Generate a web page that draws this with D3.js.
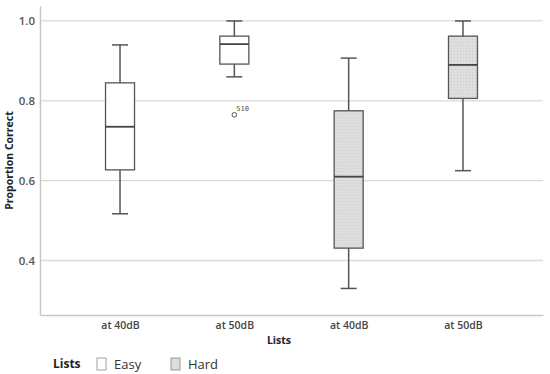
<!DOCTYPE html>
<html>
<head>
<meta charset="utf-8">
<script src="https://cdn.jsdelivr.net/npm/d3@7"></script>
<style>
  body { margin: 0; background: #fff; }
  text { font-family: "Open Sans", "DejaVu Sans", sans-serif; }
</style>
</head>
<body>
<div id="chart"></div>
<script>
// data
const categories = ["Easy 40", "Easy 50", "Hard 40", "Hard 50"]
const tickLabels = ["at 40dB", "at 50dB", "at 40dB", "at 50dB"]
const groups = ["Easy", "Easy", "Hard", "Hard"]
const whiskerLow = [0.517, 0.860, 0.330, 0.625]
const q1 = [0.627, 0.892, 0.431, 0.806]
const medians = [0.735, 0.942, 0.610, 0.890]
const q3 = [0.845, 0.962, 0.775, 0.962]
const whiskerHigh = [0.940, 1.000, 0.907, 1.000]
const outliers = [{ cat: "Easy 50", value: 0.765, label: "510" }]
const yTicks = [0.4, 0.6, 0.8, 1.0]
const legendItems = ["Easy", "Hard"]

const fills = { Easy: "#ffffff", Hard: "#dedede" }

const dimensions = {
  width: 550,
  height: 374,
  margin: { top: 6, right: 7, bottom: 59, left: 40 },
}
dimensions.boundedWidth = dimensions.width - dimensions.margin.left - dimensions.margin.right
dimensions.boundedHeight = dimensions.height - dimensions.margin.top - dimensions.margin.bottom

const svg = d3.select("#chart").append("svg")
  .attr("width", dimensions.width)
  .attr("height", dimensions.height)

// hatch-ish texture for the hard boxes
const defs = svg.append("defs")
const pat = defs.append("pattern")
  .attr("id", "dots")
  .attr("width", 3).attr("height", 3)
  .attr("patternUnits", "userSpaceOnUse")
pat.append("rect").attr("width", 3).attr("height", 3).attr("fill", fills.Hard)
pat.append("rect").attr("width", 1).attr("height", 1).attr("fill", "#cdcdcd")

const bounds = svg.append("g")
  .attr("transform", `translate(${dimensions.margin.left},${dimensions.margin.top})`)

const yScale = d3.scaleLinear()
  .domain([0.2635, 1.0375])
  .range([dimensions.boundedHeight, 0])

const xScale = d3.scalePoint()
  .domain(categories)
  .range([0, dimensions.boundedWidth])
  .padding(0.7)

// gridlines
bounds.append("g")
  .selectAll("line")
  .data(yTicks)
  .join("line")
    .attr("x1", 0)
    .attr("x2", dimensions.boundedWidth)
    .attr("y1", d => yScale(d))
    .attr("y2", d => yScale(d))
    .attr("stroke", "#d9d9d9")
    .attr("stroke-width", 1.3)

// y axis
const yAxis = bounds.append("g")
  .call(d3.axisLeft(yScale).tickValues(yTicks).tickFormat(d3.format(".1f")).tickSize(0).tickPadding(5))
yAxis.select(".domain").attr("stroke", "#c8c8c8").attr("stroke-width", 1.5)
yAxis.selectAll("text")
  .attr("font-size", 11.5)
  .attr("font-weight", 600)
  .attr("fill", "#555")
  .style("font-family", "'Open Sans', sans-serif")

// x axis
const xAxis = bounds.append("g")
  .attr("transform", `translate(0,${dimensions.boundedHeight})`)
  .call(d3.axisBottom(xScale).tickSize(0).tickPadding(7).tickFormat((d, i) => tickLabels[i]))
xAxis.select(".domain").attr("stroke", "#c8c8c8").attr("stroke-width", 1.5)
xAxis.selectAll("text")
  .attr("font-size", 10.5)
  .attr("font-weight", 600)
  .attr("fill", "#444")
  .style("font-family", "'Open Sans', sans-serif")

// axis titles
svg.append("text")
  .attr("transform", `translate(13,${dimensions.margin.top + dimensions.boundedHeight / 2}) rotate(-90)`)
  .attr("text-anchor", "middle")
  .attr("font-size", 10.5)
  .attr("font-weight", 700)
  .attr("fill", "#222")
  .text("Proportion Correct")

svg.append("text")
  .attr("x", 279)
  .attr("y", 344)
  .attr("text-anchor", "middle")
  .attr("font-size", 10.5)
  .attr("font-weight", 700)
  .attr("fill", "#222")
  .text("Lists")

// boxes
const boxWidth = 29
const capWidth = 16
const stroke = "#555"
const boxes = bounds.append("g")
  .selectAll("g")
  .data(categories)
  .join("g")
    .attr("transform", d => `translate(${xScale(d)},0)`)

boxes.append("line")
  .attr("y1", (d, i) => yScale(whiskerHigh[i]))
  .attr("y2", (d, i) => yScale(whiskerLow[i]))
  .attr("stroke", stroke).attr("stroke-width", 1.5)

boxes.selectAll(".cap")
  .data((d, i) => [whiskerLow[i], whiskerHigh[i]])
  .join("line")
    .attr("class", "cap")
    .attr("x1", -capWidth / 2).attr("x2", capWidth / 2)
    .attr("y1", d => yScale(d)).attr("y2", d => yScale(d))
    .attr("stroke", stroke).attr("stroke-width", 1.5)

boxes.append("rect")
  .attr("x", -boxWidth / 2)
  .attr("width", boxWidth)
  .attr("y", (d, i) => yScale(q3[i]))
  .attr("height", (d, i) => yScale(q1[i]) - yScale(q3[i]))
  .attr("fill", (d, i) => groups[i] === "Hard" ? "url(#dots)" : fills.Easy)
  .attr("stroke", stroke).attr("stroke-width", 1.3)

boxes.append("line")
  .attr("x1", -boxWidth / 2).attr("x2", boxWidth / 2)
  .attr("y1", (d, i) => yScale(medians[i]))
  .attr("y2", (d, i) => yScale(medians[i]))
  .attr("stroke", "#444").attr("stroke-width", 1.8)

// outliers
bounds.selectAll(".outlier")
  .data(outliers)
  .join("circle")
    .attr("class", "outlier")
    .attr("cx", d => xScale(d.cat))
    .attr("cy", d => yScale(d.value))
    .attr("r", 2.3)
    .attr("fill", "none")
    .attr("stroke", "#555").attr("stroke-width", 1)

bounds.selectAll(".outlier-label")
  .data(outliers)
  .join("text")
    .attr("class", "outlier-label")
    .attr("x", d => xScale(d.cat) + 2)
    .attr("y", d => yScale(d.value) - 4)
    .attr("font-size", 7)
    .attr("fill", "#555")
    .style("font-family", "'DejaVu Sans Mono', monospace")
    .text(d => d.label)

// legend
const legend = svg.append("g").attr("transform", "translate(53,364)")
legend.append("text")
  .attr("y", 4)
  .attr("font-size", 12)
  .attr("font-weight", 700)
  .attr("fill", "#222")
  .text("Lists")

const legendScale = d3.scalePoint().domain(legendItems).range([44, 118])
const li = legend.selectAll(".item")
  .data(legendItems)
  .join("g")
    .attr("class", "item")
    .attr("transform", d => `translate(${legendScale(d)},0)`)
li.append("rect")
  .attr("x", 0).attr("y", -6)
  .attr("width", 9).attr("height", 12)
  .attr("fill", d => fills[d])
  .attr("stroke", "#888").attr("stroke-width", 0.8)
li.append("text")
  .attr("x", 17).attr("y", 4.5)
  .attr("font-size", 13)
  .attr("fill", "#333")
  .text(d => d)
</script>
</body>
</html>
